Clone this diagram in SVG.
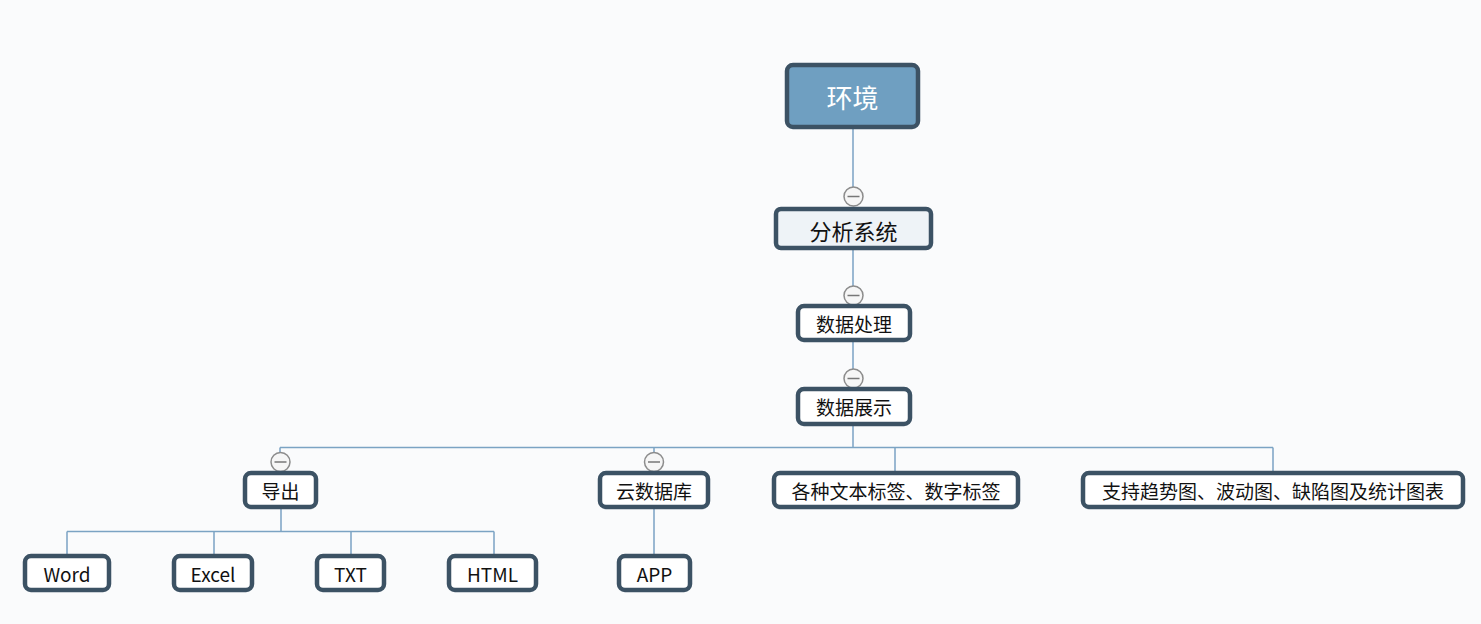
<svg xmlns="http://www.w3.org/2000/svg" width="1481" height="624" viewBox="0 0 1481 624">
<style>
.box{fill:#ffffff;stroke:#3c5264;stroke-width:4.5}
.t{font-family:"Noto Sans CJK SC","Liberation Sans",sans-serif;font-size:19px;fill:#111;text-anchor:middle;dominant-baseline:central}
.c{stroke:#7ba3c3;stroke-width:1.5;fill:none}
.col circle{fill:#f6f6f6;stroke:#8c8c8c;stroke-width:1.5}
.col line{stroke:#777;stroke-width:1.5}
</style>
<rect width="1481" height="624" fill="#fafbfc"/>
<g id="connectors">
<path class="c" d="M853 128V188M853 250V287M853 342V370M853 426V447.5M280 447.5H1273M280 447.5V453M654 447.5V453M895 447.5V472M1273 447.5V472"/>
<path class="c" d="M281 509V531.5M67 531.5H494M67 531.5V555M214 531.5V555M351 531.5V555M494 531.5V555M654 509V555"/>
</g>
<g id="collapse-buttons" class="col">
<circle cx="853.5" cy="196.5" r="9.5"/><line x1="847.5" y1="196.5" x2="859.5" y2="196.5"/>
<circle cx="853.5" cy="295.5" r="9.5"/><line x1="847.5" y1="295.5" x2="859.5" y2="295.5"/>
<circle cx="853.5" cy="378.5" r="9.5"/><line x1="847.5" y1="378.5" x2="859.5" y2="378.5"/>
<circle cx="280.5" cy="462" r="9.5"/><line x1="274.5" y1="462" x2="286.5" y2="462"/>
<circle cx="654" cy="462" r="9.5"/><line x1="648" y1="462" x2="660" y2="462"/>
</g>
<g id="n-root"><rect class="box" x="787" y="65" width="131" height="62" rx="6" style="fill:#6f9fc1"/><text class="t" x="852.5" y="96" style="font-size:26px;fill:#fff">环境</text></g>
<g id="n-fenxi"><rect class="box" x="776" y="209" width="155" height="39" rx="5" style="fill:#eef3f7"/><text class="t" x="853.5" y="229.5" style="font-size:22px">分析系统</text></g>
<g id="n-chuli"><rect class="box" x="798" y="306" width="112" height="34" rx="6"/><text class="t" x="854" y="323">数据处理</text></g>
<g id="n-zhanshi"><rect class="box" x="798" y="389" width="112" height="35" rx="6"/><text class="t" x="854" y="406.5">数据展示</text></g>
<g id="n-daochu"><rect class="box" x="245" y="473" width="71" height="34" rx="6"/><text class="t" x="280.5" y="490">导出</text></g>
<g id="n-yun"><rect class="box" x="600" y="473" width="108" height="34" rx="6"/><text class="t" x="654" y="490">云数据库</text></g>
<g id="n-biaoqian"><rect class="box" x="774" y="473" width="244" height="34" rx="6"/><text class="t" x="896" y="490">各种文本标签、数字标签</text></g>
<g id="n-tubiao"><rect class="box" x="1083" y="473" width="380" height="34" rx="6"/><text class="t" x="1273" y="490">支持趋势图、波动图、缺陷图及统计图表</text></g>
<g id="n-word"><rect class="box" x="25" y="556" width="84" height="34" rx="6"/><text class="t" x="67" y="573">Word</text></g>
<g id="n-excel"><rect class="box" x="174" y="556" width="78" height="34" rx="6"/><text class="t" x="213" y="573">Excel</text></g>
<g id="n-txt"><rect class="box" x="317" y="556" width="67" height="34" rx="6"/><text class="t" x="350.5" y="573">TXT</text></g>
<g id="n-html"><rect class="box" x="449" y="556" width="87" height="34" rx="6"/><text class="t" x="492.5" y="573">HTML</text></g>
<g id="n-app"><rect class="box" x="619" y="556" width="71" height="34" rx="6"/><text class="t" x="654.5" y="573">APP</text></g>
</svg>
